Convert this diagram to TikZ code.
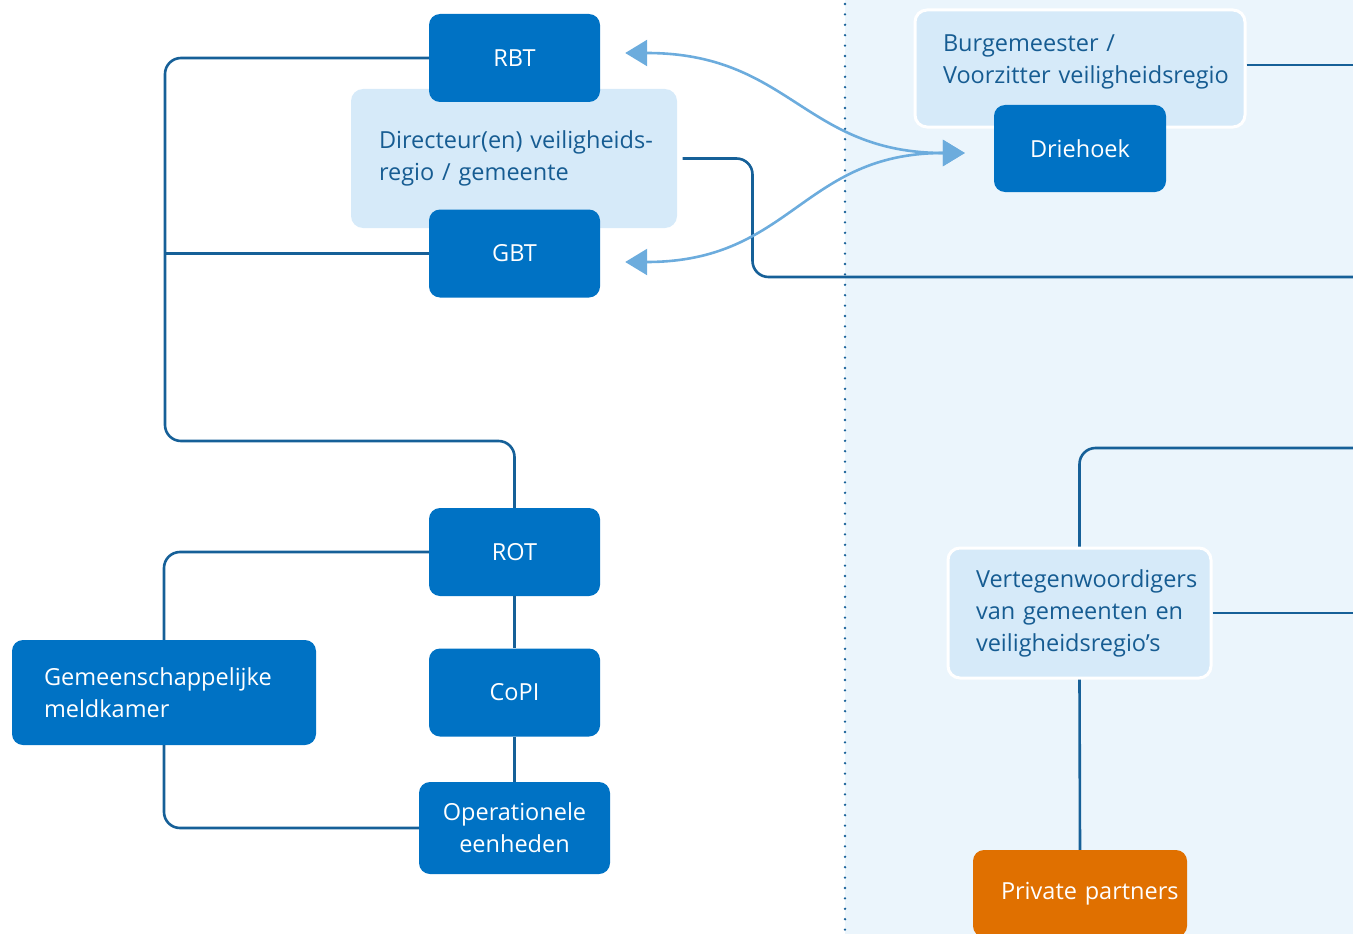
\documentclass[tikz,border=0pt]{standalone}
\usepackage{fontspec}
\setmainfont{Open Sans}
\usetikzlibrary{arrows.meta, positioning}
\definecolor{teamblue}{RGB}{0,114,196}
\definecolor{panelblue}{RGB}{214,234,249}
\definecolor{zoneblue}{RGB}{235,245,252}
\definecolor{linkblue}{RGB}{22,96,152}
\definecolor{textblue}{RGB}{22,92,146}
\definecolor{talkblue}{RGB}{108,172,221}
\definecolor{partnerorange}{RGB}{224,112,0}
\begin{document}
\begin{tikzpicture}[x=1pt,y=-1pt,on grid,font=\fontsize{23.5}{32}\selectfont,
    >={Triangle[length=22pt,width=26pt]},
    team/.style={fill=teamblue,text=white,rounded corners=11pt,minimum width=171pt,minimum height=88pt,inner sep=0pt},
    panel/.style={fill=panelblue,draw=white,line width=3pt,text=textblue,rounded corners=12pt,align=left,inner xsep=28pt,inner ysep=0pt},
    link/.style={draw=linkblue,line width=2.6pt,rounded corners=16pt},
    talk/.style={draw=talkblue,line width=2.6pt,<->,shorten <=25pt,shorten >=29pt,looseness=1.2}]
  \useasboundingbox (0,0) rectangle (1353,934);
  \fill[zoneblue] (845,0) rectangle (1353,934);
  \draw[linkblue,line width=2.6pt,line cap=round,dash pattern=on 0pt off 10.4pt] (845,4) -- (845,934);

  \node[panel,text width=270pt,minimum height=139pt,draw=none] (DIR) at (514,158.5)
    {\mbox{Directeur(en) veiligheids-}\\\mbox{regio / gemeente}};
  \node[team] (RBT) at (514.5,58) {RBT};
  \node[team] (GBT) [below=195.5pt of RBT] {GBT};
  \node[team] (ROT) at (514.5,552) {ROT};
  \node[team] (CoPI) [below=140.5pt of ROT] {CoPI};
  \node[team,minimum width=191pt,minimum height=92pt,align=center] (OPE) at (514.5,828) {Operationele\\eenheden};
  \node[team,minimum width=304pt,minimum height=105pt,align=left,text width=240pt,inner xsep=32pt] (GMK) at (164,692.5)
    {\mbox{Gemeenschappelijke}\\meldkamer};

  \node[panel,text width=274pt,minimum height=117pt,text depth=50pt] (BGM) at (1080,68.5)
    {\mbox{Burgemeester /}\\\mbox{Voorzitter veiligheidsregio}};
  \node[team,minimum width=172pt,minimum height=87pt] (DRI) at (1080,148.5) {Driehoek};
  \node[panel,text width=207pt,minimum height=130pt] (VGW) at (1079.5,613)
    {\mbox{Vertegenwoordigers}\\\mbox{van gemeenten en}\\\mbox{veiligheidsregio’s}};
  \node[team,fill=partnerorange,minimum width=214pt,minimum height=87pt,align=left,text width=158pt,inner xsep=28pt] (PP) at (1080,893.5)
    {\mbox{Private partners}};

  \coordinate (bend) at (165,441);
  \coordinate (exitA) at (1353,277);
  \coordinate (exitB) at (1353,65);
  \coordinate (exitC) at (1353,448);
  \coordinate (exitD) at (1353,613);

  \draw[link] (RBT.west) -| (bend) -| (ROT.north);
  \draw[link] (GBT.west) -- (GBT.west -| bend);
  \draw[link] (ROT.west) -| (GMK.north);
  \draw[link] (GMK.south) |- (OPE.west);
  \draw[link] (ROT.south) -- (CoPI.north);
  \draw[link] (CoPI.south) -- (OPE.north);
  \draw[link] ([xshift=4pt]DIR.east) -- ++(70,0) |- (exitA);
  \draw[link] (BGM.east |- exitB) -- (exitB);
  \draw[link] (VGW.north) |- (exitC);
  \draw[link] (VGW.east) -- (exitD);
  \draw[link] (VGW.south) -- (PP.north);

  \draw[talk] ([yshift=5pt]RBT.east) to[out=0,in=180] ([yshift=-4.5pt]DRI.west);
  \draw[talk] ([yshift=-8.5pt]GBT.east) to[out=0,in=180] ([yshift=-4.5pt]DRI.west);
\end{tikzpicture}
\end{document}
